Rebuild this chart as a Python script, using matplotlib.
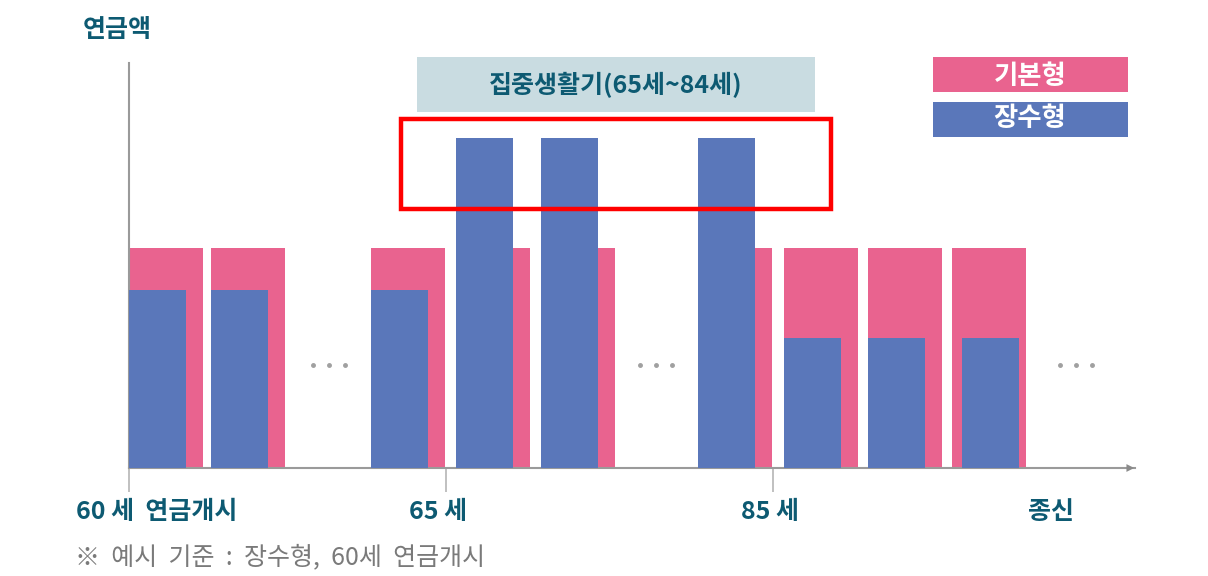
import numpy as np
import matplotlib
matplotlib.use("Agg")
import matplotlib.pyplot as plt
from matplotlib.patches import Rectangle, FancyArrowPatch

plt.rcParams['font.family'] = ['Noto Sans CJK KR', 'DejaVu Sans']

# 슬롯 위치 (연금 지급 연차, 도식용)
slots = [0, 0.98, 2.88, 3.89, 4.9, 6.77, 7.8, 8.8, 9.8]
basic = [100, 100, 100, 100, 100, 100, 100, 100, 100]      # 기본형
longev = [81, 81, 81, 150, 150, 150, 59, 59, 59]          # 장수형
longev_shift = [0, 0, 0, 0, 0, 0, 0, 0, 0.12]
gap_slots = [2.38, 6.27, 11.27]                           # "· · ·"
tick_pos = [0, 3.77, 7.67]

PINK = "#E9638F"
BLUE = "#5A77BA"
TEAL = "#0D5A72"
GRAY = "#9A9A9A"

W, H = 1208, 576
fig = plt.figure(figsize=(W / 100, H / 100), dpi=100)
unit = 84.0
x0, x1, yb, yt = 129, 1135, 468, 63
ax = fig.add_axes([x0 / W, (H - yb) / H, (x1 - x0) / W, (yb - yt) / H])
ax.set_xlim(0, (x1 - x0) / unit)
ax.set_ylim(0, (yb - yt) / 220 * 100)

ax.bar(slots, basic, width=74 / unit, align="edge", color=PINK, zorder=2)
ax.bar(np.array(slots) + np.array(longev_shift), longev, width=57 / unit,
       align="edge", color=BLUE, zorder=3)
for g in gap_slots:
    ax.plot([g - 0.19, g, g + 0.19], [47, 47, 47], ls="none", marker="o",
            ms=2.5, color="#A0A0A0", clip_on=False)

for s in ["top", "right"]:
    ax.spines[s].set_visible(False)
ax.spines["left"].set_color(GRAY)
ax.spines["left"].set_linewidth(1.5)
ax.spines["bottom"].set_color(GRAY)
ax.spines["bottom"].set_linewidth(1.5)
ax.set_xticks(tick_pos)
ax.set_xticklabels([])
ax.tick_params(axis="x", length=17, width=1.2, color="#B5B5B5", direction="out")
ax.set_yticks([])

# 오버레이 (픽셀 좌표)
ov = fig.add_axes([0, 0, 1, 1], zorder=5)
ov.set_xlim(0, W)
ov.set_ylim(H, 0)
ov.axis("off")
ov.add_patch(FancyArrowPatch((1120, yb), (1137, yb), arrowstyle="-|>",
                             mutation_scale=14, color="#8A8A8A", lw=0))

ov.text(117, 30, "연금액", fontsize=18, fontweight="bold", color=TEAL,
        ha="center", va="center")

ov.add_patch(Rectangle((417, 57), 398, 55, color="#C9DCE1", lw=0))
ov.text(616, 85, "집중생활기(65세~84세)", fontsize=18, fontweight="bold",
        color=TEAL, ha="center", va="center")
ov.add_patch(Rectangle((401, 119), 430, 90, fill=False, edgecolor="#FF0000", lw=3.2))

ov.add_patch(Rectangle((933, 57), 195, 35, color=PINK, lw=0))
ov.text(1030, 76, "기본형", fontsize=19, fontweight="bold", color="white",
        ha="center", va="center")
ov.add_patch(Rectangle((933, 102), 195, 35, color=BLUE, lw=0))
ov.text(1030, 118, "장수형", fontsize=19, fontweight="bold", color="white",
        ha="center", va="center")

for txt, cx in [("60 세  연금개시", 157), ("65 세", 438), ("85 세", 770), ("종신", 1051)]:
    ov.text(cx, 512, txt, fontsize=18, fontweight="bold", color=TEAL,
            ha="center", va="center")

ov.text(75, 557, "※  예시  기준  :  장수형,  60세  연금개시", fontsize=18,
        color="#7A7A7A", ha="left", va="center")

fig.savefig("out.png", dpi=100)
